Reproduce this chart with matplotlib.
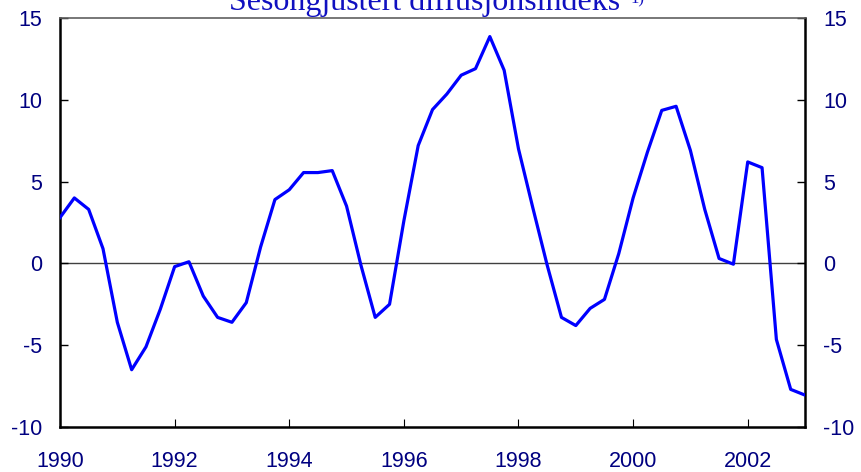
import matplotlib
matplotlib.use("Agg")
import matplotlib.pyplot as plt
import numpy as np

# Kvartalsvis diffusjonsindeks, 1990K1 - 2003K1
start_year = 1990
quarter_step = 0.25
index_values = [
    2.8, 4.0, 3.3, 0.9,
    -3.6, -6.5, -5.1, -2.8,
    -0.2, 0.1, -2.0, -3.3,
    -3.6, -2.4, 1.0, 3.9,
    4.5, 5.55, 5.55, 5.67,
    3.5, -0.1, -3.3, -2.5,
    2.6, 7.2, 9.4, 10.35,
    11.5, 11.9, 13.86, 11.8,
    7.0, 3.4, -0.1, -3.3,
    -3.8, -2.75, -2.2, 0.6,
    4.0, 6.8, 9.35, 9.6,
    6.9, 3.3, 0.3, -0.05,
    6.2, 5.85, -4.65, -7.7,
    -8.05,
]
x_ticks = [1990, 1992, 1994, 1996, 1998, 2000, 2002]
y_ticks = [-10, -5, 0, 5, 10, 15]
title = "Sesongjustert diffusjonsindeks"
title_note = "1)"

years = start_year + quarter_step * np.arange(len(index_values))

plt.rcParams["axes.unicode_minus"] = False
label_col = "#000080"
fig = plt.figure(figsize=(8.61, 4.72), dpi=100)
ax = fig.add_axes([0.0697, 0.0953, 0.935 - 0.0697, 0.962 - 0.0953])

ax.axhline(0, color="#404040", lw=1.0, zorder=1)
ax.plot(years, index_values, color="#0000ff", lw=2.3, zorder=3)

ax.set_xlim(1990, 2003)
ax.set_ylim(-10, 15)
ax.set_xticks(x_ticks)
ax.set_yticks(y_ticks)

ax.tick_params(axis="y", direction="in", length=6, width=1, pad=13,
               labelsize=15.5, labelcolor=label_col, left=True, right=True,
               labelleft=True, labelright=True)
ax.tick_params(axis="x", direction="in", length=6, width=0.8, pad=17.5,
               labelsize=15.5, labelcolor=label_col)
for lab in ax.get_xticklabels() + ax.get_yticklabels():
    lab.set_family("Liberation Sans")

for side in ["left", "right", "bottom"]:
    ax.spines[side].set_linewidth(1.8)
    ax.spines[side].set_color("black")
ax.spines["top"].set_linewidth(1.2)
ax.spines["top"].set_color("#606060")

fig.text(0.266, 0.979, title, ha="left", va="baseline", fontsize=23,
         family="Liberation Serif", color="#1010c0")
fig.text(0.732, 0.992, title_note, ha="left", va="baseline", fontsize=12,
         family="Liberation Serif", color="#1010c0")

fig.savefig("out.png", dpi=100)
